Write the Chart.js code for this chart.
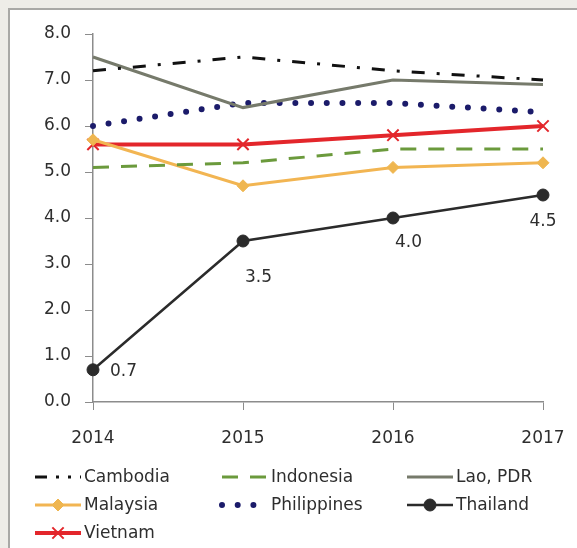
<!DOCTYPE html>
<html>
<head>
<meta charset="utf-8">
<script src="https://cdn.jsdelivr.net/npm/chart.js@4/dist/chart.umd.min.js"></script>
<style>
  html, body { margin: 0; padding: 0; background: #eeede8; overflow: hidden; }
  #panel { position: absolute; left: 8px; top: 8px; width: 600px; height: 600px;
           background: #ffffff; border: 2px solid #a9a9a6; }
  #wrap { position: absolute; left: 0; top: 0; width: 577px; height: 548px; }
</style>
</head>
<body>
<div id="panel"></div>
<div id="wrap"><canvas id="chart" width="577" height="548"></canvas></div>
<script>
// Years on the horizontal axis
const years = ['2014', '2015', '2016', '2017'];

// Values per country
const cambodia    = [7.2, 7.5, 7.2, 7.0];
const indonesia   = [5.1, 5.2, 5.5, 5.5];
const lao         = [7.5, 6.4, 7.0, 6.9];
const malaysia    = [5.7, 4.7, 5.1, 5.2];
const philippines = [6.0, 6.5, 6.5, 6.3];
const thailand    = [0.7, 3.5, 4.0, 4.5];
const vietnam     = [5.6, 5.6, 5.8, 6.0];

// Vertical axis range
const yMin = 0, yMax = 8, yStep = 1;

const FONT = '"DejaVu Sans", sans-serif';
const TEXT = '#2e2e2e';

// Text labels printed next to the Thailand points
const thaiLabels = {
  id: 'thaiLabels',
  afterDatasetsDraw(chart) {
    const idx = chart.data.datasets.findIndex(d => d.label === 'Thailand');
    const meta = chart.getDatasetMeta(idx);
    const ctx = chart.ctx;
    const offsets = [
      { dx: 17, dy: 2, align: 'left' },
      { dx: 2, dy: 37, align: 'left' },
      { dx: 2, dy: 25, align: 'left' },
      { dx: 0, dy: 27, align: 'center' }
    ];
    ctx.save();
    ctx.font = '17px ' + FONT;
    ctx.fillStyle = TEXT;
    ctx.textBaseline = 'middle';
    meta.data.forEach((pt, i) => {
      const o = offsets[i];
      ctx.textAlign = o.align;
      ctx.fillText(thailand[i].toFixed(1), pt.x + o.dx, pt.y + o.dy);
    });
    ctx.restore();
  }
};

// Three-column legend beneath the axis
const gridLegend = {
  id: 'gridLegend',
  afterDraw(chart) {
    const ctx = chart.ctx;
    const colX = [35, 222, 407];
    const rowY = [477, 505, 533];
    const sample = 46;
    ctx.save();
    chart.data.datasets.forEach((ds, i) => {
      const x = colX[i % 3];
      const y = rowY[Math.floor(i / 3)];
      ctx.save();
      ctx.strokeStyle = ds.borderColor;
      ctx.lineWidth = ds.borderWidth;
      ctx.lineCap = ds.borderCapStyle || 'butt';
      ctx.setLineDash(ds.legendDash || ds.borderDash || []);
      ctx.beginPath();
      ctx.moveTo(x, y);
      ctx.lineTo(x + sample, y);
      ctx.stroke();
      ctx.restore();
      if (ds.pointRadius > 0) {
        ctx.save();
        ctx.fillStyle = ds.pointBackgroundColor;
        ctx.strokeStyle = ds.pointBorderColor;
        ctx.lineWidth = ds.pointBorderWidth;
        Chart.helpers.drawPoint(ctx, {
          pointStyle: ds.pointStyle, radius: ds.pointRadius, rotation: 0,
          borderWidth: ds.pointBorderWidth
        }, x + sample / 2, y);
        ctx.restore();
      }
      ctx.font = '17px ' + FONT;
      ctx.fillStyle = TEXT;
      ctx.textAlign = 'left';
      ctx.textBaseline = 'middle';
      ctx.fillText(ds.label, x + sample + 3, y + 1);
    });
    ctx.restore();
  }
};

new Chart(document.getElementById('chart'), {
  type: 'line',
  data: {
    labels: years,
    datasets: [
      { label: 'Cambodia', data: cambodia, borderColor: '#111111', borderWidth: 3,
        borderDash: [13, 12, 3, 12], legendDash: [12, 9, 3, 9, 3, 9], pointRadius: 0 },
      { label: 'Indonesia', data: indonesia, borderColor: '#6b9a3c', borderWidth: 3,
        borderDash: [16, 12], pointRadius: 0 },
      { label: 'Lao, PDR', data: lao, borderColor: '#767a6b', borderWidth: 3, pointRadius: 0 },
      { label: 'Malaysia', data: malaysia, borderColor: '#f2b552', borderWidth: 3,
        pointStyle: 'rectRot', pointRadius: 6, pointBackgroundColor: '#efb650',
        pointBorderColor: '#efb650', pointBorderWidth: 1 },
      { label: 'Philippines', data: philippines, borderColor: '#1b1b6a', borderWidth: 6,
        borderDash: [0, 15.7], borderCapStyle: 'round', pointRadius: 0 },
      { label: 'Thailand', data: thailand, borderColor: '#2b2b2b', borderWidth: 2.5,
        pointStyle: 'circle', pointRadius: 6, pointBackgroundColor: '#2b2b2b',
        pointBorderColor: '#2b2b2b', pointBorderWidth: 1 },
      { label: 'Vietnam', data: vietnam, borderColor: '#e3262b', borderWidth: 4,
        pointStyle: 'crossRot', pointRadius: 8, pointBackgroundColor: '#e3262b',
        pointBorderColor: '#e3262b', pointBorderWidth: 2 }
    ]
  },
  options: {
    responsive: false,
    animation: false,
    tension: 0,
    layout: { padding: { left: 0, right: 34, top: 34, bottom: 100 } },
    plugins: { legend: { display: false }, tooltip: { enabled: false } },
    scales: {
      x: {
        offset: false,
        grid: { drawOnChartArea: false, drawTicks: true, tickLength: 8, color: '#8c8c8c' },
        border: { color: '#8c8c8c', width: 1.5 },
        ticks: { font: { family: FONT, size: 17 }, color: TEXT, padding: 18, maxRotation: 0 },
        afterFit(scale) {
          scale.height = 46;
          scale.paddingLeft = 0;
          scale.paddingRight = 0;
        }
      },
      y: {
        min: yMin, max: yMax,
        grid: { drawOnChartArea: false, drawTicks: true, tickLength: 8, color: '#8c8c8c' },
        border: { color: '#8c8c8c', width: 1.5 },
        ticks: { stepSize: yStep, font: { family: FONT, size: 17 }, color: TEXT, padding: 14,
                 callback: v => v.toFixed(1) },
        afterFit(scale) {
          scale.width = 93;
          scale.paddingTop = 0;
          scale.paddingBottom = 0;
        }
      }
    }
  },
  plugins: [thaiLabels, gridLegend]
});
</script>
</body>
</html>
